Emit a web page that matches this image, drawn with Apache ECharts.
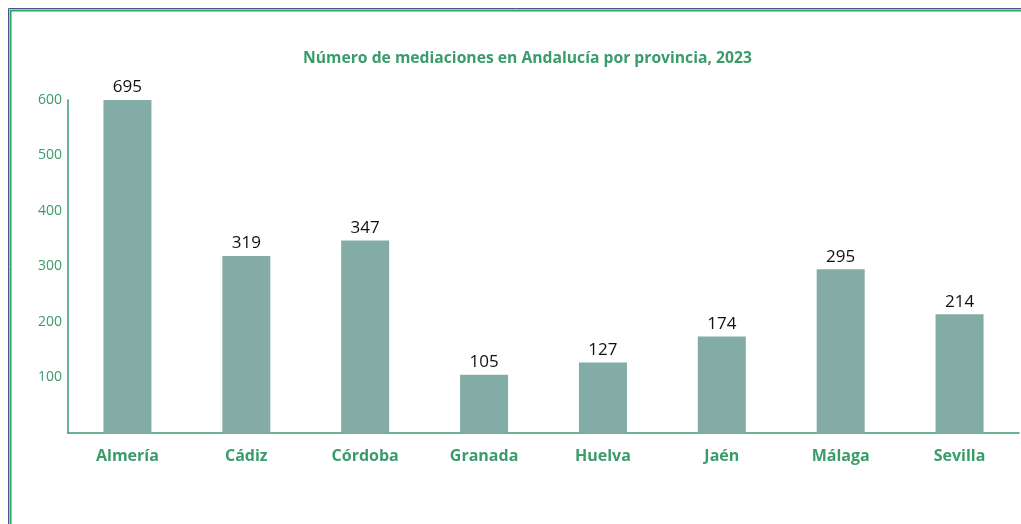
<!DOCTYPE html>
<html><head><meta charset="utf-8">
<script src="https://cdn.jsdelivr.net/npm/echarts@6/dist/echarts.min.js"></script>
<style>html,body{margin:0;padding:0;background:#fff}#c{width:1021px;height:524px}</style>
</head><body><div id="c"></div>
<script>
const categories = ["Almería","Cádiz","Córdoba","Granada","Huelva","Jaén","Málaga","Sevilla"];
const values = [695,319,347,105,127,174,295,214];
const titleText = "Número de mediaciones en Andalucía por provincia, 2023";
const green = "#3a9b6b";
const chart = echarts.init(document.getElementById('c'));
chart.setOption({
  animation:false,
  title:{text:titleText,left:298,top:46,textStyle:{fontFamily:'Open Sans',fontSize:15.7,fontWeight:'bold',color:green}},
  graphic:[
    {type:'rect',shape:{x:8.5,y:8.5,width:1100,height:600},style:{fill:null,stroke:'#4a5590',lineWidth:1}},
    {type:'rect',shape:{x:10.5,y:10.5,width:1100,height:600},style:{fill:null,stroke:'#2ea566',lineWidth:2}}
  ],
  grid:{left:68,right:2,top:100,bottom:91},
  xAxis:{type:'category',data:categories,axisTick:{show:false},
    axisLine:{lineStyle:{color:green,width:1.5}},
    axisLabel:{margin:15,color:green,fontFamily:'Open Sans',fontSize:16,fontWeight:'bold'}},
  yAxis:{type:'value',min:0,max:600,interval:100,splitLine:{show:false},
    axisLine:{show:true,lineStyle:{color:green,width:1.5}},axisTick:{show:false},
    axisLabel:{showMinLabel:false,margin:6,color:green,fontFamily:'Open Sans',fontSize:14}},
  series:[{type:'bar',data:values,barWidth:48,itemStyle:{color:'#83aca6'},clip:true,
    label:{show:true,position:'top',distance:4,color:'#111',fontFamily:'Open Sans',fontSize:17}}]
});
</script></body></html>
